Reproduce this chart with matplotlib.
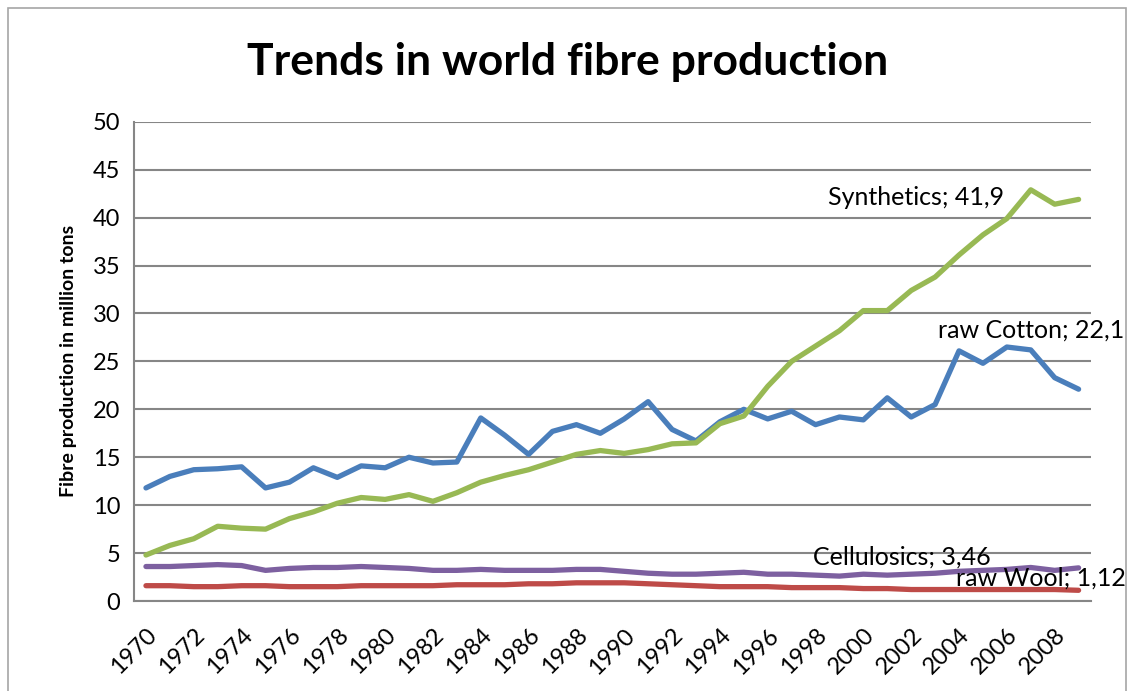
import matplotlib
matplotlib.use("Agg")
import matplotlib.pyplot as plt
from matplotlib.patches import Rectangle

plt.rcParams['font.family'] = ['Lato', 'DejaVu Sans']

years = list(range(1970, 2010))

cotton = [11.8, 13.0, 13.7, 13.8, 14.0, 11.8, 12.4, 13.9, 12.9, 14.1,
          13.9, 15.0, 14.4, 14.5, 19.1, 17.3, 15.3, 17.7, 18.4, 17.5,
          19.0, 20.8, 17.9, 16.7, 18.7, 20.0, 19.0, 19.8, 18.4, 19.2,
          18.9, 21.2, 19.2, 20.5, 26.1, 24.8, 26.5, 26.2, 23.3, 22.1]
wool = [1.6, 1.6, 1.5, 1.5, 1.6, 1.6, 1.5, 1.5, 1.5, 1.6,
        1.6, 1.6, 1.6, 1.7, 1.7, 1.7, 1.8, 1.8, 1.9, 1.9,
        1.9, 1.8, 1.7, 1.6, 1.5, 1.5, 1.5, 1.4, 1.4, 1.4,
        1.3, 1.3, 1.2, 1.2, 1.2, 1.2, 1.2, 1.2, 1.2, 1.12]
synthetics = [4.8, 5.8, 6.5, 7.8, 7.6, 7.5, 8.6, 9.3, 10.2, 10.8,
              10.6, 11.1, 10.4, 11.3, 12.4, 13.1, 13.7, 14.5, 15.3, 15.7,
              15.4, 15.8, 16.4, 16.5, 18.5, 19.3, 22.4, 25.0, 26.6, 28.2,
              30.3, 30.3, 32.4, 33.8, 36.1, 38.2, 39.9, 42.9, 41.4, 41.9]
cellulosics = [3.6, 3.6, 3.7, 3.8, 3.7, 3.2, 3.4, 3.5, 3.5, 3.6,
               3.5, 3.4, 3.2, 3.2, 3.3, 3.2, 3.2, 3.2, 3.3, 3.3,
               3.1, 2.9, 2.8, 2.8, 2.9, 3.0, 2.8, 2.8, 2.7, 2.6,
               2.8, 2.7, 2.8, 2.9, 3.1, 3.2, 3.3, 3.5, 3.2, 3.46]

# name, value text, values, colour, label offset (px) from last point, anchor
series = [
    ("raw Cotton", "22,1", cotton, "#4a7ebb", (-141, 59), "left"),
    ("raw Wool", "1,12", wool, "#be4b48", (-123, 12), "left"),
    ("Cellulosics", "3,46", cellulosics, "#7d60a0", (-266, 11), "left"),
    ("Synthetics", "41,9", synthetics, "#98b954", (-74, 2), "right"),
]

fig = plt.figure(figsize=(11.28, 6.91), dpi=100)
ax = fig.add_axes([0.1188, 0.1302, 0.848, 0.6936])

# chart border
fig.patches.append(Rectangle((8 / 1128, -0.05), 1118 / 1128, 1.05 - 8 / 691,
                             transform=fig.transFigure, fill=False,
                             edgecolor="#a6a6a6", linewidth=1.2))

for name, lab, vals, col, off, ha in series:
    ax.plot(years, vals, color=col, linewidth=3.8, solid_capstyle="round",
            solid_joinstyle="round")
    ax.annotate(name + "; " + lab, xy=(years[-1], vals[-1]), xytext=off,
                textcoords="offset pixels", ha=ha, va="center",
                fontsize=18, color="black")

ax.set_xlim(1969.5, 2009.5)
ax.set_ylim(0, 50)
ax.set_yticks(range(0, 51, 5))
ax.set_xticks(years[::2])
ax.set_xticklabels([str(y) for y in years[::2]], rotation=45, ha="right",
                   rotation_mode="anchor")
ax.tick_params(axis="both", length=0, labelsize=17, colors="black")
ax.tick_params(axis="y", pad=10)
ax.tick_params(axis="x", pad=17)
for t in ax.get_xticklabels():
    t.set_x(t.get_position()[0])
ax.grid(axis="y", color="#868686", linewidth=1.5)
ax.set_axisbelow(True)
for s in ["top", "right"]:
    ax.spines[s].set_visible(False)
for s in ["left", "bottom"]:
    ax.spines[s].set_color("#868686")
    ax.spines[s].set_linewidth(1.5)

ax.set_ylabel("Fibre production in million tons", fontsize=14,
              fontweight="bold", labelpad=11)
fig.text(0.503, 0.91, "Trends in world fibre production", ha="center",
         va="center", fontsize=32, fontweight="bold")

fig.savefig("out.png", dpi=100)
